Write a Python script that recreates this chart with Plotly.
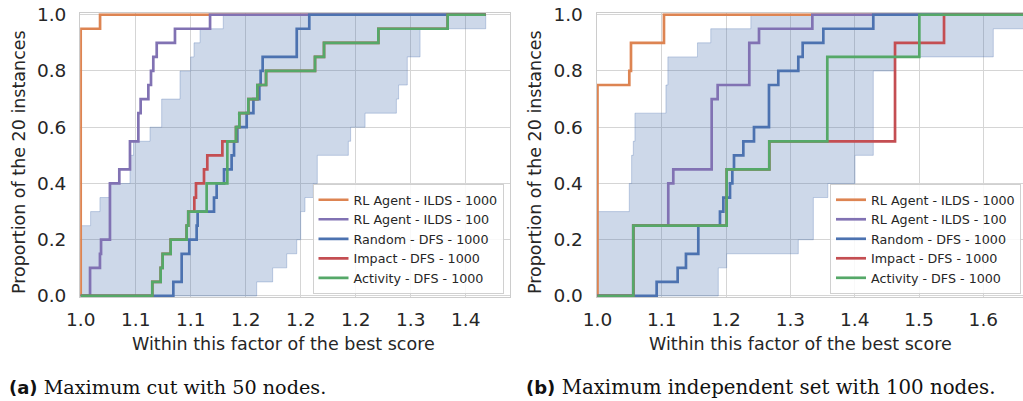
import plotly.graph_objects as go

# ---------------- data ----------------
NAMES = ["RL Agent - ILDS - 1000", "RL Agent - ILDS - 100", "Random - DFS - 1000",
         "Impact - DFS - 1000", "Activity - DFS - 1000"]
COLORS = ["#DD8452", "#8172B3", "#4C72B0", "#C44E52", "#55A868"]

# Panel (a): Maximum cut, 50 nodes  (x where the step happens, proportion after the step)
A_END = 1.3682
A_orange_x = [1.0, 1.0176]
A_orange_y = [0.95, 1.00]
A_purple_x = [1.0085, 1.0175, 1.0185, 1.0266, 1.0351, 1.0448, 1.0524, 1.0545, 1.0615, 1.0639,
              1.0660, 1.0691, 1.0857, 1.1176]
A_purple_y = [0.10, 0.15, 0.20, 0.40, 0.45, 0.55, 0.65, 0.70, 0.75, 0.80, 0.85, 0.90, 0.95, 1.00]
A_blue_x = [1.0842, 1.0918, 1.0987, 1.1054, 1.1063, 1.1212, 1.1236, 1.1303, 1.1372, 1.1394,
            1.1424, 1.1509, 1.1570, 1.1624, 1.1636, 1.1654, 1.1964, 1.2078]
A_blue_y = [0.05, 0.15, 0.20, 0.25, 0.30, 0.35, 0.40, 0.45, 0.50, 0.55, 0.60, 0.65, 0.70, 0.75,
            0.80, 0.85, 0.95, 1.00]
A_red_x = [1.0651, 1.0727, 1.0745, 1.0818, 1.0963, 1.0978, 1.1033, 1.1048, 1.1121, 1.1151,
           1.1288, 1.1412, 1.1442, 1.1524, 1.1606, 1.1685, 1.2130, 1.2212, 1.2706, 1.3336]
A_red_y = [0.05, 0.10, 0.15, 0.20, 0.25, 0.30, 0.35, 0.40, 0.45, 0.50, 0.55, 0.60, 0.65, 0.70,
           0.75, 0.80, 0.85, 0.90, 0.95, 1.00]
A_green_x = [1.0651, 1.0727, 1.0745, 1.0818, 1.0963, 1.0978, 1.1145, 1.1333, 1.1412, 1.1442,
             1.1524, 1.1606, 1.1685, 1.2130, 1.2212, 1.2706, 1.3336]
A_green_y = [0.05, 0.10, 0.15, 0.20, 0.25, 0.30, 0.40, 0.55, 0.60, 0.65, 0.70, 0.75, 0.80, 0.85,
             0.90, 0.95, 1.00]
A_band_lo_x = [1.1600, 1.1745, 1.1873, 1.1964, 1.2000, 1.2039, 1.2115, 1.2151, 1.2433, 1.2454,
               1.2585, 1.2870, 1.2890, 1.2969, 1.3085, 1.3682]
A_band_lo_y = [0.05, 0.10, 0.15, 0.20, 0.30, 0.35, 0.40, 0.50, 0.55, 0.60, 0.65, 0.70, 0.75,
               0.85, 0.95, 1.00]
A_band_hi_x = [1.0, 1.0090, 1.0175, 1.0260, 1.0448, 1.0480, 1.0630, 1.0736, 1.0903, 1.1000,
               1.1030, 1.1085, 1.1296]
A_band_hi_y = [0.25, 0.30, 0.35, 0.40, 0.50, 0.55, 0.60, 0.70, 0.80, 0.85, 0.90, 0.95, 1.00]
A_tickvals = [1.0, 1.05, 1.10, 1.15, 1.20, 1.25, 1.30, 1.35]
A_ticktext = ["1.0", "1.1", "1.1", "1.2", "1.2", "1.2", "1.3", "1.4"]

# Panel (b): Maximum independent set, 100 nodes
B_END = 1.70
B_orange_x = [1.0, 1.0495, 1.0521, 1.1034]
B_orange_y = [0.75, 0.80, 0.90, 1.00]
B_purple_x = [1.0557, 1.1101, 1.1179, 1.1776, 1.1869, 1.2361, 1.2512, 1.3341]
B_purple_y = [0.25, 0.40, 0.45, 0.70, 0.75, 0.90, 0.95, 1.00]
B_blue_x = [1.0920, 1.1247, 1.1376, 1.1568, 1.1905, 1.1957, 1.2061, 1.2097, 1.2123, 1.2268,
            1.2434, 1.2667, 1.2812, 1.3123, 1.3191, 1.3512, 1.4289]
B_blue_y = [0.05, 0.10, 0.15, 0.25, 0.30, 0.35, 0.40, 0.45, 0.50, 0.55, 0.60, 0.75, 0.80, 0.85,
            0.90, 0.95, 1.00]
B_red_x = [1.0557, 1.2009, 1.2672, 1.4627, 1.5389]
B_red_y = [0.25, 0.45, 0.55, 0.90, 1.00]
B_green_x = [1.0557, 1.2009, 1.2672, 1.3574, 1.5005]
B_green_y = [0.25, 0.45, 0.55, 0.85, 1.00]
B_band_lo_x = [1.1879, 1.2009, 1.3123, 1.3357, 1.3582, 1.4005, 1.4289, 1.4627, 1.6155, 1.70]
B_band_lo_y = [0.10, 0.15, 0.20, 0.35, 0.40, 0.50, 0.80, 0.85, 0.95, 1.00]
B_band_hi_x = [1.0, 1.0495, 1.0531, 1.0557, 1.0583, 1.1065, 1.1095, 1.1555, 1.1762, 1.2385]
B_band_hi_y = [0.30, 0.40, 0.50, 0.55, 0.65, 0.75, 0.85, 0.90, 0.95, 1.00]
B_tickvals = [1.0, 1.1, 1.2, 1.3, 1.4, 1.5, 1.6]
B_ticktext = ["1.0", "1.1", "1.2", "1.3", "1.4", "1.5", "1.6"]

Y_TICKS = [0.0, 0.2, 0.4, 0.6, 0.8, 1.0]
X_TITLE = "Within this factor of the best score"
Y_TITLE = "Proportion of the 20 instances"
CAP_A = ("(a)", "Maximum cut with 50 nodes.")
CAP_B = ("(b)", "Maximum independent set with 100 nodes.")

# ---------------- helpers ----------------
def ecdf_path(xs, ys, end):
    """Step path starting at (1.0, 0) and extended to the end of the data."""
    return [1.0] + list(xs) + [end], [0.0] + list(ys) + [ys[-1]]

def band_path(xs, ys, end):
    return list(xs) + [end], list(ys) + [ys[-1]]

BAND_FILL = "rgba(76,114,176,0.28)"
BAND_EDGE = "rgba(76,114,176,0.30)"
FONT = "DejaVu Sans"
TXT = "#262626"
GRID = "#d5d5d5"

fig = go.Figure()

panels = [
    dict(xa="x", ya="y", legend="legend", end=A_END,
         lo=(A_band_lo_x, A_band_lo_y), hi=(A_band_hi_x, A_band_hi_y),
         series=[(A_orange_x, A_orange_y), (A_purple_x, A_purple_y), (A_blue_x, A_blue_y),
                 (A_red_x, A_red_y), (A_green_x, A_green_y)]),
    dict(xa="x2", ya="y2", legend="legend2", end=B_END,
         lo=(B_band_lo_x, B_band_lo_y), hi=(B_band_hi_x, B_band_hi_y),
         series=[(B_orange_x, B_orange_y), (B_purple_x, B_purple_y), (B_blue_x, B_blue_y),
                 (B_red_x, B_red_y), (B_green_x, B_green_y)]),
]

for p in panels:
    lx, ly = ecdf_path(p["lo"][0], p["lo"][1], p["end"])
    hx, hy = band_path(p["hi"][0], p["hi"][1], p["end"])
    fig.add_trace(go.Scatter(x=lx, y=ly, mode="lines", line=dict(shape="hv", width=1, color=BAND_EDGE),
                             xaxis=p["xa"], yaxis=p["ya"], showlegend=False, hoverinfo="skip",
                             legend=p["legend"]))
    fig.add_trace(go.Scatter(x=hx, y=hy, mode="lines", line=dict(shape="hv", width=1, color=BAND_EDGE),
                             fill="tonexty", fillcolor=BAND_FILL, legend=p["legend"],
                             xaxis=p["xa"], yaxis=p["ya"], showlegend=False, hoverinfo="skip"))
    for (sx, sy), name, col in zip(p["series"], NAMES, COLORS):
        px_, py_ = ecdf_path(sx, sy, p["end"])
        fig.add_trace(go.Scatter(x=px_, y=py_, mode="lines", name=name,
                                 line=dict(shape="hv", width=2.7, color=col),
                                 xaxis=p["xa"], yaxis=p["ya"], legend=p["legend"]))

W, H = 1023, 401
common_x = dict(showgrid=True, gridcolor=GRID, gridwidth=1, zeroline=False, showline=True,
                linecolor="#cccccc", linewidth=1.2, mirror=True, ticks="", automargin=False,
                tickfont=dict(family=FONT, size=18.5, color=TXT), ticklabelstandoff=6)
common_y = dict(common_x, range=[-0.004, 1.005], tickvals=Y_TICKS, tickformat=".1f",
                ticklabelstandoff=9)

legend_style = dict(yanchor="bottom", xanchor="right", y=(H - 294) / H,
                    bgcolor="rgba(255,255,255,0.85)", bordercolor="#d0d0d0", borderwidth=1,
                    font=dict(family=FONT, size=12.7, color=TXT), tracegroupgap=0,
                    traceorder="normal")

fig.update_layout(
    width=W, height=H, margin=dict(l=0, r=0, t=0, b=0, autoexpand=False),
    paper_bgcolor="white", plot_bgcolor="white",
    font=dict(family=FONT, color=TXT),
    xaxis=dict(common_x, domain=[80.15 / W, 509.7 / W], range=[0.9995, 1.39],
               tickvals=A_tickvals, ticktext=A_ticktext, anchor="y"),
    yaxis=dict(common_y, domain=[(H - 297.1) / H, (H - 13.3) / H], anchor="x"),
    xaxis2=dict(common_x, domain=[596.7 / W, 1.0], range=[0.9988, 1.6617],
                tickvals=B_tickvals, ticktext=B_ticktext, anchor="y2"),
    yaxis2=dict(common_y, domain=[(H - 297.1) / H, (H - 13.3) / H], anchor="x2"),
    legend=dict(legend_style, x=503.5 / W),
    legend2=dict(legend_style, x=1021 / W),
    showlegend=True,
)

ann = []
for cx in (283 / W, 800 / W):
    ann.append(dict(text=X_TITLE, x=cx, y=(H - 344) / H, xref="paper", yref="paper",
                    xanchor="center", yanchor="middle", showarrow=False,
                    font=dict(family=FONT, size=17.5, color=TXT)))
for cx in (19 / W, 535 / W):
    ann.append(dict(text=Y_TITLE, x=cx, y=(H - 162) / H, xref="paper", yref="paper",
                    xanchor="center", yanchor="middle", showarrow=False, textangle=-90,
                    font=dict(family=FONT, size=17.5, color=TXT)))
for (lab, cap), x0, sz in ((CAP_A, 7 / W, 19.2), (CAP_B, 524 / W, 19.8)):
    ann.append(dict(text='<span style="font-family:DejaVu Sans;font-size:18px"><b>' + lab
                    + '</b></span> ' + cap,
                    x=x0, y=(H - 387) / H, xref="paper", yref="paper",
                    xanchor="left", yanchor="middle", showarrow=False,
                    font=dict(family="DejaVu Serif", size=sz, color="#111111")))
fig.update_layout(annotations=ann)

fig.write_html("out.html", config={"displayModeBar": False},
               post_script="document.body.style.margin='0';document.body.style.overflow='hidden';")
